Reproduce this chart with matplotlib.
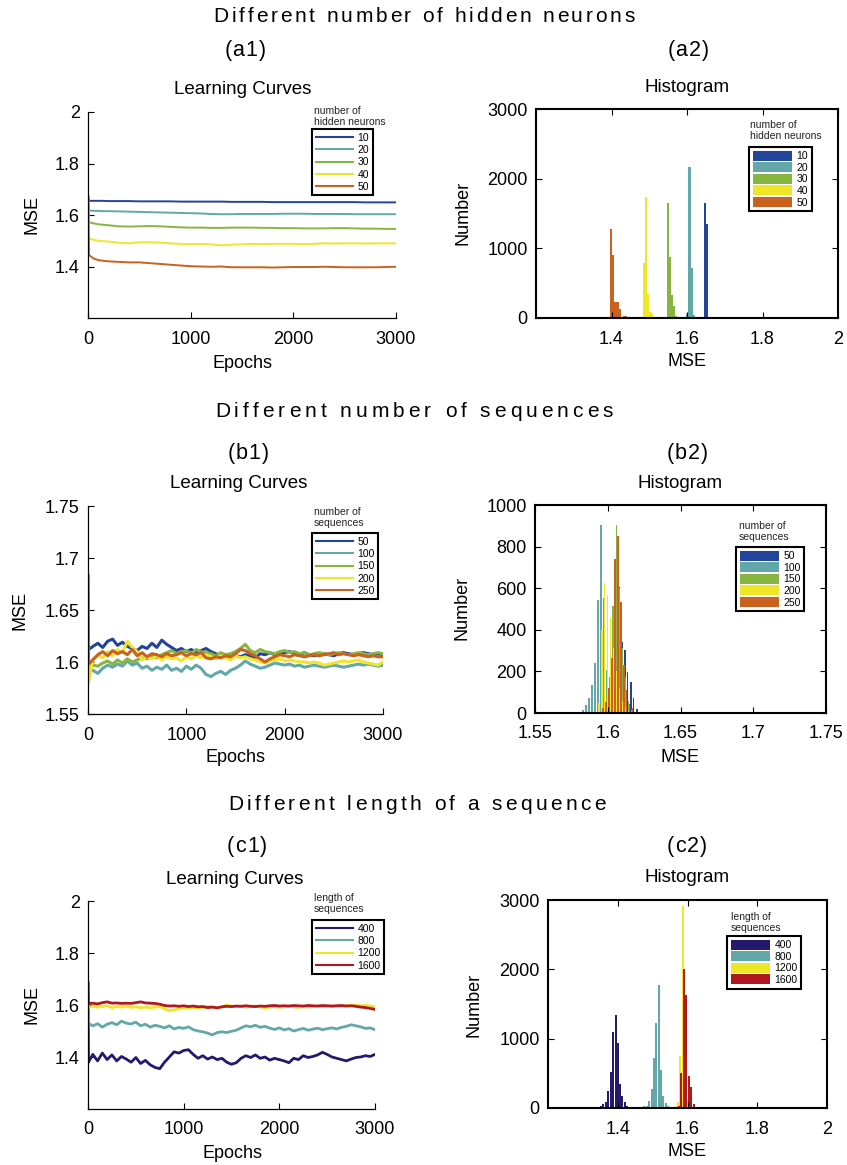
import matplotlib

matplotlib.use("Agg")
import matplotlib.pyplot as plt
from matplotlib.font_manager import FontProperties
from matplotlib.textpath import TextToPath
from matplotlib.ticker import FuncFormatter

W, H = 847, 1165
FONT = "Liberation Sans"
plt.rcParams["font.family"] = [FONT, "DejaVu Sans"]

# ---------------- (a) hidden neurons ----------------
a_labels = ["10", "20", "30", "40", "50"]
a_colors = ["#22449a", "#63a8a8", "#86b540", "#f0e628", "#c9611f"]
a_epochs = [0, 10, 30, 60, 100, 150, 200, 300, 400, 500, 600, 700, 800, 900,
            1000, 1100, 1200, 1300, 1400, 1500, 1600, 1700, 1800, 1900, 2000,
            2100, 2200, 2300, 2400, 2500, 2600, 2700, 2800, 2900, 3000]
a_mse_10 = [1.68, 1.655, 1.655, 1.655, 1.655, 1.655, 1.654, 1.654, 1.654, 1.653,
            1.653, 1.653, 1.653, 1.652, 1.652, 1.652, 1.652, 1.652, 1.651, 1.651,
            1.651, 1.651, 1.650, 1.650, 1.650, 1.650, 1.650, 1.650, 1.650, 1.650,
            1.650, 1.649, 1.649, 1.649, 1.649]
a_mse_20 = [1.68, 1.618, 1.617, 1.616, 1.616, 1.615, 1.615, 1.614, 1.613, 1.612,
            1.611, 1.610, 1.609, 1.608, 1.607, 1.606, 1.604, 1.603, 1.603, 1.604,
            1.604, 1.604, 1.604, 1.605, 1.605, 1.605, 1.604, 1.604, 1.604, 1.604,
            1.603, 1.603, 1.603, 1.603, 1.603]
a_mse_30 = [1.68, 1.572, 1.570, 1.567, 1.564, 1.562, 1.560, 1.556, 1.555, 1.556,
            1.557, 1.556, 1.554, 1.552, 1.551, 1.551, 1.550, 1.550, 1.551, 1.551,
            1.551, 1.550, 1.550, 1.549, 1.549, 1.548, 1.548, 1.548, 1.549, 1.549,
            1.548, 1.547, 1.547, 1.546, 1.546]
a_mse_40 = [1.68, 1.510, 1.507, 1.503, 1.500, 1.498, 1.497, 1.492, 1.490, 1.494,
            1.494, 1.493, 1.490, 1.488, 1.487, 1.488, 1.486, 1.482, 1.485, 1.486,
            1.488, 1.487, 1.488, 1.488, 1.488, 1.487, 1.488, 1.490, 1.489, 1.490,
            1.490, 1.489, 1.490, 1.490, 1.490]
a_mse_50 = [1.68, 1.445, 1.438, 1.430, 1.425, 1.422, 1.420, 1.418, 1.416, 1.416,
            1.413, 1.410, 1.407, 1.404, 1.401, 1.400, 1.399, 1.400, 1.397, 1.397,
            1.397, 1.397, 1.396, 1.397, 1.398, 1.398, 1.398, 1.399, 1.398, 1.397,
            1.397, 1.397, 1.397, 1.398, 1.399]

a_hist_x_10 = [1.6472, 1.6522, 1.6575, 1.6625, 1.6675]
a_hist_n_10 = [1651, 1354, 20, 15, 15]
a_hist_x_20 = [1.5999, 1.6066, 1.6124, 1.6177]
a_hist_n_20 = [62, 2170, 723, 46]
a_hist_x_30 = [1.5492, 1.5540, 1.5594, 1.5655, 1.5708]
a_hist_n_30 = [1651, 876, 326, 177, 28]
a_hist_x_40 = [1.4865, 1.4918, 1.4962, 1.5028, 1.5081, 1.5143]
a_hist_n_40 = [789, 1732, 344, 81, 67, 20]
a_hist_x_50 = [1.3982, 1.4035, 1.4092, 1.4136, 1.4180, 1.4228, 1.4336, 1.4393, 1.4446]
a_hist_n_50 = [1277, 904, 234, 234, 234, 124, 33, 35, 20]

# ---------------- (b) number of sequences ----------------
b_labels = ["50", "100", "150", "200", "250"]
b_colors = ["#22449a", "#63a8a8", "#86b540", "#f0e628", "#c9611f"]
b_epochs = [0, 5, 50, 100, 150, 200, 250, 300, 350, 400, 450, 500, 550, 600,
            650, 700, 750, 800, 850, 900, 950, 1000, 1050, 1100, 1150, 1200,
            1250, 1300, 1350, 1400, 1450, 1500, 1550, 1600, 1650, 1700, 1750,
            1800, 1850, 1900, 1950, 2000, 2050, 2100, 2150, 2200, 2250, 2300,
            2350, 2400, 2450, 2500, 2550, 2600, 2650, 2700, 2750, 2800, 2850,
            2900, 2950, 3000]
b_mse_50 = [1.683, 1.612, 1.615, 1.618, 1.614, 1.620, 1.622, 1.616, 1.619, 1.615,
            1.613, 1.611, 1.615, 1.613, 1.618, 1.614, 1.621, 1.617, 1.614, 1.611,
            1.613, 1.610, 1.612, 1.609, 1.611, 1.613, 1.610, 1.608, 1.606, 1.607,
            1.604, 1.606, 1.605, 1.607, 1.606, 1.604, 1.608, 1.607, 1.609, 1.607,
            1.608, 1.609, 1.610, 1.608, 1.607, 1.609, 1.607, 1.606, 1.607, 1.608,
            1.607, 1.606, 1.608, 1.609, 1.608, 1.607, 1.608, 1.609, 1.608, 1.607,
            1.608, 1.607]
b_mse_100 = [1.683, 1.590, 1.592, 1.589, 1.594, 1.597, 1.595, 1.598, 1.596, 1.601,
             1.597, 1.599, 1.594, 1.596, 1.592, 1.595, 1.593, 1.597, 1.592, 1.594,
             1.591, 1.596, 1.593, 1.597, 1.594, 1.588, 1.586, 1.589, 1.591, 1.588,
             1.592, 1.594, 1.597, 1.601, 1.598, 1.596, 1.594, 1.595, 1.597, 1.599,
             1.598, 1.597, 1.598, 1.596, 1.597, 1.595, 1.596, 1.597, 1.596, 1.595,
             1.596, 1.597, 1.596, 1.595, 1.596, 1.597, 1.598, 1.597, 1.598, 1.597,
             1.596, 1.597]
b_mse_150 = [1.683, 1.595, 1.597, 1.596, 1.599, 1.601, 1.598, 1.602, 1.599, 1.603,
             1.600, 1.602, 1.604, 1.603, 1.606, 1.604, 1.607, 1.609, 1.611, 1.608,
             1.610, 1.611, 1.608, 1.612, 1.610, 1.609, 1.608, 1.606, 1.609, 1.607,
             1.608, 1.610, 1.613, 1.617, 1.611, 1.609, 1.612, 1.610, 1.609, 1.608,
             1.610, 1.611, 1.609, 1.610, 1.608, 1.609, 1.607, 1.608, 1.609, 1.608,
             1.607, 1.608, 1.609, 1.608, 1.607, 1.608, 1.609, 1.608, 1.607, 1.608,
             1.609, 1.608]
b_mse_200 = [1.683, 1.580, 1.603, 1.607, 1.604, 1.610, 1.606, 1.612, 1.609, 1.620,
             1.614, 1.610, 1.602, 1.605, 1.603, 1.606, 1.602, 1.605, 1.603, 1.604,
             1.601, 1.605, 1.603, 1.606, 1.604, 1.607, 1.605, 1.603, 1.606, 1.604,
             1.602, 1.606, 1.604, 1.605, 1.603, 1.602, 1.600, 1.599, 1.601, 1.602,
             1.603, 1.601, 1.602, 1.601, 1.600, 1.600, 1.599, 1.600, 1.599, 1.597,
             1.598, 1.599, 1.600, 1.601, 1.600, 1.601, 1.602, 1.600, 1.599, 1.598,
             1.597, 1.600]
b_mse_250 = [1.683, 1.598, 1.602, 1.607, 1.610, 1.606, 1.611, 1.608, 1.610, 1.607,
             1.612, 1.606, 1.609, 1.605, 1.608, 1.607, 1.605, 1.608, 1.606, 1.607,
             1.609, 1.606, 1.608, 1.607, 1.609, 1.604, 1.603, 1.605, 1.604, 1.606,
             1.605, 1.608, 1.612, 1.611, 1.608, 1.606, 1.603, 1.600, 1.603, 1.605,
             1.607, 1.606, 1.605, 1.607, 1.606, 1.605, 1.606, 1.607, 1.606, 1.607,
             1.608, 1.609, 1.607, 1.608, 1.607, 1.606, 1.607, 1.606, 1.605, 1.606,
             1.605, 1.605]

b_hist_x_50 = [1.5974, 1.5994, 1.6015, 1.6036, 1.6057, 1.6079, 1.6098, 1.6117,
               1.6137, 1.6158, 1.6178, 1.6199]
b_hist_n_50 = [10, 40, 100, 250, 450, 607, 340, 303, 199, 150, 72, 19]
b_hist_x_100 = [1.5830, 1.5851, 1.5871, 1.5892, 1.5912, 1.5933, 1.5954, 1.5974,
                1.5993, 1.6013, 1.6034]
b_hist_n_100 = [15, 38, 74, 135, 242, 543, 904, 551, 207, 40, 10]
b_hist_x_150 = [1.5974, 1.5996, 1.6017, 1.6038, 1.6060, 1.6080, 1.6101, 1.6122,
                1.6143, 1.6164]
b_hist_n_150 = [30, 80, 175, 514, 904, 600, 311, 175, 60, 15]
b_hist_x_200 = [1.5940, 1.5960, 1.5978, 1.5998, 1.6020, 1.6040, 1.6061, 1.6081,
                1.6102, 1.6122, 1.6143]
b_hist_n_200 = [46, 399, 623, 567, 455, 311, 200, 120, 60, 30, 12]
b_hist_x_250 = [1.5968, 1.5989, 1.6009, 1.6030, 1.6050, 1.6071, 1.6090, 1.6110,
                1.6130, 1.6150, 1.6170]
b_hist_n_250 = [22, 55, 119, 263, 739, 851, 535, 230, 110, 45, 22]

# ---------------- (c) length of a sequence ----------------
c_labels = ["400", "800", "1200", "1600"]
c_colors = ["#23196e", "#63a8a8", "#f0e628", "#b01820"]
c_epochs = b_epochs
c_mse_400 = [1.685, 1.380, 1.410, 1.385, 1.415, 1.390, 1.408, 1.385, 1.402, 1.392,
             1.380, 1.398, 1.375, 1.387, 1.370, 1.360, 1.355, 1.380, 1.400, 1.420,
             1.415, 1.425, 1.428, 1.410, 1.395, 1.405, 1.392, 1.400, 1.390, 1.395,
             1.380, 1.372, 1.378, 1.395, 1.405, 1.398, 1.408, 1.395, 1.400, 1.388,
             1.395, 1.390, 1.385, 1.378, 1.395, 1.390, 1.405, 1.398, 1.402, 1.408,
             1.418, 1.410, 1.400, 1.395, 1.390, 1.385, 1.392, 1.398, 1.400, 1.405,
             1.402, 1.410]
c_mse_800 = [1.685, 1.530, 1.520, 1.528, 1.515, 1.526, 1.532, 1.524, 1.538, 1.530,
             1.527, 1.534, 1.520, 1.526, 1.515, 1.522, 1.518, 1.512, 1.520, 1.508,
             1.514, 1.510, 1.516, 1.505, 1.500, 1.497, 1.492, 1.485, 1.494, 1.497,
             1.494, 1.499, 1.503, 1.512, 1.520, 1.516, 1.522, 1.514, 1.518, 1.511,
             1.506, 1.512, 1.504, 1.509, 1.500, 1.505, 1.510, 1.503, 1.507, 1.511,
             1.505, 1.509, 1.512, 1.508, 1.514, 1.518, 1.524, 1.520, 1.516, 1.510,
             1.512, 1.505]
c_mse_1200 = [1.685, 1.590, 1.595, 1.592, 1.594, 1.597, 1.590, 1.594, 1.592, 1.595,
              1.591, 1.593, 1.590, 1.592, 1.589, 1.592, 1.594, 1.585, 1.578, 1.581,
              1.586, 1.589, 1.587, 1.590, 1.588, 1.591, 1.594, 1.592, 1.590, 1.593,
              1.600, 1.596, 1.593, 1.595, 1.592, 1.594, 1.596, 1.593, 1.589, 1.592,
              1.594, 1.591, 1.593, 1.595, 1.593, 1.591, 1.594, 1.592, 1.594, 1.596,
              1.593, 1.595, 1.594, 1.596, 1.595, 1.597, 1.599, 1.600, 1.597, 1.599,
              1.596, 1.593]
c_mse_1600 = [1.685, 1.605, 1.607, 1.604, 1.609, 1.612, 1.607, 1.608, 1.606, 1.607,
              1.606, 1.609, 1.612, 1.608, 1.607, 1.606, 1.603, 1.598, 1.596, 1.597,
              1.595, 1.597, 1.594, 1.596, 1.593, 1.594, 1.590, 1.592, 1.589, 1.593,
              1.595, 1.594, 1.596, 1.595, 1.597, 1.595, 1.594, 1.596, 1.595, 1.597,
              1.598, 1.596, 1.597, 1.596, 1.598, 1.597, 1.596, 1.598, 1.597, 1.596,
              1.598, 1.597, 1.596, 1.597, 1.598, 1.596, 1.597, 1.595, 1.592, 1.590,
              1.587, 1.583]

c_hist_x_400 = [1.3443, 1.3510, 1.3587, 1.3653, 1.3721, 1.3797, 1.3864, 1.3940,
                1.3997, 1.4064, 1.4131, 1.4198, 1.4275]
c_hist_n_400 = [20, 29, 58, 91, 245, 519, 1101, 1336, 933, 346, 168, 91, 29]
c_hist_x_800 = [1.4762, 1.4829, 1.4896, 1.4972, 1.5039, 1.5106, 1.5173, 1.5240,
                1.5307, 1.5384, 1.5451]
c_hist_n_800 = [29, 34, 106, 274, 716, 1221, 1769, 548, 173, 67, 30]
c_hist_x_1200 = [1.5668, 1.5737, 1.5795, 1.5870, 1.5950, 1.6020]
c_hist_n_1200 = [25, 91, 750, 2913, 700, 120]
c_hist_x_1600 = [1.5756, 1.5823, 1.5899, 1.5966, 1.6043, 1.6110, 1.6177]
c_hist_n_1600 = [29, 509, 2000, 1630, 466, 298, 58]


def fx(x):
    return x / W


def fy(y):
    return 1 - y / H


def rect(l, t, r, b):
    return [l / W, 1 - b / H, (r - l) / W, (b - t) / H]


def spaced_text(fig, xc, y, s, size, width=None, track=0.0):
    """Letter-spaced text centred at xc, baseline at y (pixels)."""
    prop = FontProperties(family=FONT, size=size)
    t2p = TextToPath()
    ws = [t2p.get_text_width_height_descent(c, prop, ismath=False)[0] * fig.dpi / 72
          for c in s]
    if width is not None:
        track = (width - sum(ws)) / (len(s) - 1)
    x = xc - (sum(ws) + track * (len(s) - 1)) / 2
    for c, w in zip(s, ws):
        fig.text(fx(x), fy(y), c, fontproperties=prop, ha="left", va="baseline")
        x += w + track


def label(fig, x, y, s, size=13, rot=0):
    fig.text(fx(x), fy(y), s, fontsize=size, ha="center", va="center", rotation=rot)


fmt = FuncFormatter(lambda v, p: f"{v:g}")


def style_curve_ax(ax, ylim, yticks):
    ax.set_xlim(0, 3000)
    ax.set_ylim(*ylim)
    ax.set_xticks([0, 1000, 2000, 3000])
    ax.set_yticks(yticks)
    ax.xaxis.set_major_formatter(fmt)
    ax.yaxis.set_major_formatter(fmt)
    ax.spines["top"].set_visible(False)
    ax.spines["right"].set_visible(False)
    for s in ("left", "bottom"):
        ax.spines[s].set_linewidth(0.9)
    ax.tick_params(direction="in", length=4, width=0.8, labelsize=13)
    ax.tick_params(axis="x", pad=9)
    ax.tick_params(axis="y", pad=6)


def style_hist_ax(ax, xlim, xticks, ylim, yticks):
    ax.set_xlim(*xlim)
    ax.set_ylim(*ylim)
    ax.set_xticks(xticks)
    ax.set_yticks(yticks)
    ax.xaxis.set_major_formatter(fmt)
    ax.yaxis.set_major_formatter(fmt)
    for s in ax.spines.values():
        s.set_linewidth(1.5)
    ax.tick_params(direction="in", length=4, width=0.8, labelsize=13,
                   top=True, right=True)
    ax.tick_params(axis="x", pad=9)
    ax.tick_params(axis="y", pad=6)


def add_legend(fig, ax, handles, labels, box_xy, title_xy, title, patch=False):
    leg = ax.legend(handles, labels, loc="upper left",
                    bbox_to_anchor=(fx(box_xy[0]), fy(box_xy[1])),
                    bbox_transform=fig.transFigure, fontsize=7.5,
                    frameon=True, fancybox=False, framealpha=1,
                    edgecolor="black", borderaxespad=0, borderpad=0.35,
                    labelspacing=0.1 if patch else 0.22,
                    handlelength=3.8 if patch else 3.6,
                    handleheight=1.1 if patch else 0.7,
                    handletextpad=0.4)
    leg.get_frame().set_linewidth(1.5)
    for h in leg.legend_handles:
        h.set_linewidth(1.5)
    for i, line in enumerate(title):
        fig.text(fx(title_xy[0]), fy(title_xy[1] + i * 11), line,
                 fontsize=7.5, ha="left", va="baseline", color="#222222")


fig = plt.figure(figsize=(W / 100, H / 100), dpi=100)

# ---------- row (a) ----------
spaced_text(fig, 424, 22, "Different number of hidden neurons", 15, width=421)
spaced_text(fig, 245, 56, "(a1)", 15.5, track=1)
spaced_text(fig, 688, 56, "(a2)", 15.5, track=1)
label(fig, 243, 89, "Learning Curves", size=13.5)
label(fig, 687, 88, "Histogram", size=13.5)

ax = fig.add_axes(rect(88, 112, 396, 318))
a_curves = [a_mse_10, a_mse_20, a_mse_30, a_mse_40, a_mse_50]
lines = [ax.plot(a_epochs, y, color=c, lw=1.4)[0] for y, c in zip(a_curves, a_colors)]
style_curve_ax(ax, (1.2, 2.0), [1.4, 1.6, 1.8, 2.0])
add_legend(fig, ax, lines, a_labels, (312, 129), (314, 114),
           ["number of", "hidden neurons"])
label(fig, 32, 215, "MSE", rot=90)
label(fig, 242, 363, "Epochs")

ax = fig.add_axes(rect(536, 109, 838, 318))
a_hx = [a_hist_x_10, a_hist_x_20, a_hist_x_30, a_hist_x_40, a_hist_x_50]
a_hn = [a_hist_n_10, a_hist_n_20, a_hist_n_30, a_hist_n_40, a_hist_n_50]
bars = [ax.bar(x, n, width=0.0060, color=c, linewidth=0)
        for x, n, c in zip(a_hx, a_hn, a_colors)]
style_hist_ax(ax, (1.2, 2.0), [1.4, 1.6, 1.8, 2.0], (0, 3000), [0, 1000, 2000, 3000])
add_legend(fig, ax, bars, a_labels, (749, 147), (750, 128),
           ["number of", "hidden neurons"], patch=True)
label(fig, 463, 213, "Number", rot=90)
label(fig, 687, 362, "MSE")

# ---------- row (b) ----------
spaced_text(fig, 414, 417, "Different number of sequences", 15, width=398)
spaced_text(fig, 248, 459, "(b1)", 15.5, track=1)
spaced_text(fig, 687, 459, "(b2)", 15.5, track=1)
label(fig, 239, 484, "Learning Curves", size=13.5)
label(fig, 680, 483, "Histogram", size=13.5)

ax = fig.add_axes(rect(88, 506, 383, 714))
b_curves = [b_mse_50, b_mse_100, b_mse_150, b_mse_200, b_mse_250]
lines = [ax.plot(b_epochs, y, color=c, lw=2.2)[0] for y, c in zip(b_curves, b_colors)]
style_curve_ax(ax, (1.55, 1.75), [1.55, 1.6, 1.65, 1.7, 1.75])
add_legend(fig, ax, lines, b_labels, (312, 533), (314, 515),
           ["number of", "sequences"])
label(fig, 20, 610, "MSE", rot=90)
label(fig, 235, 758, "Epochs")

ax = fig.add_axes(rect(535, 505, 826, 713))
b_hx = [b_hist_x_50, b_hist_x_100, b_hist_x_150, b_hist_x_200, b_hist_x_250]
b_hn = [b_hist_n_50, b_hist_n_100, b_hist_n_150, b_hist_n_200, b_hist_n_250]
bars = [ax.bar(x, n, width=0.0011, color=c, linewidth=0)
        for x, n, c in zip(b_hx, b_hn, b_colors)]
style_hist_ax(ax, (1.55, 1.75), [1.55, 1.6, 1.65, 1.7, 1.75], (0, 1000),
              [0, 200, 400, 600, 800, 1000])
add_legend(fig, ax, bars, b_labels, (736, 547), (739, 529),
           ["number of", "sequences"], patch=True)
label(fig, 462, 608, "Number", rot=90)
label(fig, 680, 757, "MSE")

# ---------- row (c) ----------
spaced_text(fig, 417, 810, "Different length of a sequence", 15, width=378)
spaced_text(fig, 247, 852, "(c1)", 15.5, track=1)
spaced_text(fig, 687, 852, "(c2)", 15.5, track=1)
label(fig, 235, 879, "Learning Curves", size=13.5)
label(fig, 687, 878, "Histogram", size=13.5)

ax = fig.add_axes(rect(88, 901, 375, 1109))
c_curves = [c_mse_400, c_mse_800, c_mse_1200, c_mse_1600]
lines = [ax.plot(c_epochs, y, color=c, lw=2.0)[0] for y, c in zip(c_curves, c_colors)]
style_curve_ax(ax, (1.2, 2.0), [1.4, 1.6, 1.8, 2.0])
add_legend(fig, ax, lines, c_labels, (312, 920), (314, 901),
           ["length of", "sequences"])
label(fig, 32, 1005, "MSE", rot=90)
label(fig, 232, 1153, "Epochs")

ax = fig.add_axes(rect(548, 900, 827, 1108))
c_hx = [c_hist_x_400, c_hist_x_800, c_hist_x_1200, c_hist_x_1600]
c_hn = [c_hist_n_400, c_hist_n_800, c_hist_n_1200, c_hist_n_1600]
bars = [ax.bar(x, n, width=0.0055, color=c, linewidth=0)
        for x, n, c in zip(c_hx, c_hn, c_colors)]
style_hist_ax(ax, (1.2, 2.0), [1.4, 1.6, 1.8, 2.0], (0, 3000), [0, 1000, 2000, 3000])
add_legend(fig, ax, bars, c_labels, (727, 936), (731, 920),
           ["length of", "sequences"], patch=True)
label(fig, 474, 1005, "Number", rot=90)
label(fig, 687, 1152, "MSE")

fig.savefig("out.png", dpi=100)
plt.close(fig)
